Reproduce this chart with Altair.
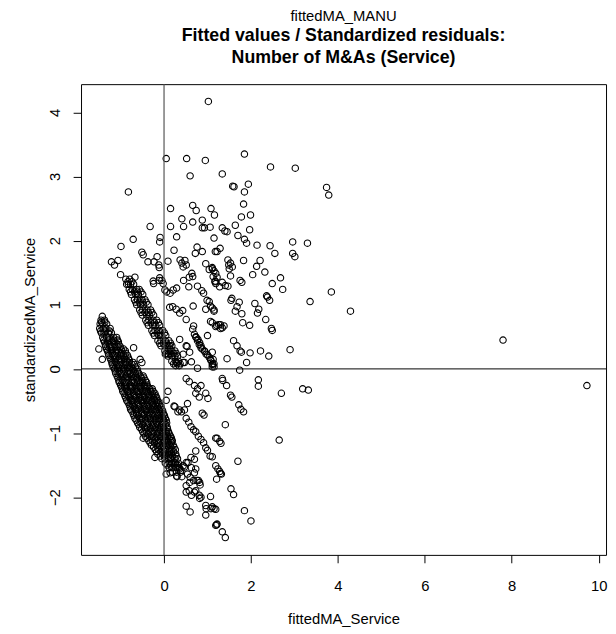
import altair as alt
import pandas as pd

# ---------------- data ----------------
# scattered points (fitted, standardized residual)
upper_pts = [
    (1.02, 4.17),
    (0.05, 3.28), (0.52, 3.28), (0.95, 3.25), (1.85, 3.35), (2.45, 3.15), (3.02, 3.13),
    (0.60, 3.01), (1.34, 3.04), (1.58, 2.85), (1.61, 2.84), (1.94, 2.88), (1.85, 2.76),
    (3.74, 2.83), (3.79, 2.71), (-0.82, 2.76),
    (0.15, 2.50), (0.66, 2.55), (0.74, 2.47), (1.08, 2.50), (1.16, 2.40), (1.83, 2.57),
    (1.78, 2.37), (1.99, 2.40), (0.41, 2.34), (0.66, 2.29), (0.88, 2.32),
    (-0.32, 2.22), (0.15, 2.22), (0.45, 2.22), (0.88, 2.20), (0.93, 2.20), (1.06, 2.21),
    (1.34, 2.20), (1.45, 2.14), (1.40, 2.15), (1.64, 2.24), (1.97, 2.17), (1.70, 2.08),
    (1.85, 2.02), (1.90, 1.96), (2.14, 1.93), (2.44, 1.92), (2.55, 1.80), (2.96, 1.98),
    (3.30, 1.96), (2.96, 1.80), (3.01, 1.75),
    (0.29, 2.06), (-0.09, 2.05), (-0.10, 1.98), (1.15, 2.04), (-0.71, 2.02), (-0.99, 1.91),
    (0.23, 1.85), (0.76, 1.90), (0.72, 1.80), (0.88, 1.83), (1.18, 1.83), (1.22, 1.83),
    (1.29, 1.88), (1.47, 1.70), (1.53, 1.65), (1.57, 1.59), (1.83, 1.69), (2.04, 1.47),
    (2.13, 1.60), (2.21, 1.69), (2.32, 1.51), (2.49, 1.33), (2.68, 1.42), (2.73, 1.24),
    (3.85, 1.20), (3.36, 1.05),
    (-0.51, 1.82), (-0.48, 1.78), (-0.37, 1.67), (-0.23, 1.67), (-0.16, 1.75),
    (-0.12, 1.62), (-0.11, 1.58), (-1.21, 1.67), (-1.14, 1.62), (-1.06, 1.69),
    (-1.00, 1.47), (-0.67, 1.43), (-0.82, 1.32), (-0.25, 1.37), (-0.24, 1.33),
    (-0.11, 1.38), (-0.10, 1.42), (0.09, 1.68), (0.37, 1.70), (0.41, 1.65), (0.48, 1.69),
    (0.51, 1.62), (0.44, 1.59), (0.96, 1.64), (1.04, 1.55), (1.11, 1.58), (1.15, 1.53),
    (1.13, 1.44), (1.49, 1.62), (1.50, 1.56), (1.53, 1.45),
    (0.45, 1.38), (0.58, 1.43), (0.64, 1.49), (0.66, 1.44), (0.57, 1.28), (0.77, 1.29),
    (0.87, 1.22), (0.91, 1.18), (1.18, 1.37), (1.19, 1.33), (1.34, 1.35), (1.41, 1.30),
    (1.75, 1.38), (1.79, 1.35), (1.73, 1.04), (1.68, 0.97), (1.56, 1.10), (1.54, 1.07),
    (2.36, 1.14), (2.38, 1.12), (2.43, 1.07), (2.09, 1.02), (2.18, 0.93), (2.15, 0.87),
    (2.34, 0.77), (2.47, 0.63), (1.81, 0.72), (1.97, 0.68),
    (0.67, 0.98), (0.96, 0.93), (0.99, 1.07), (1.04, 1.05), (1.07, 0.98), (1.15, 0.92),
    (0.13, 0.96), (0.20, 0.97), (0.28, 0.93), (0.36, 0.87), (0.43, 0.91), (0.51, 0.77),
    (1.07, 0.74), (1.21, 0.68), (1.30, 0.69), (1.34, 0.64), (1.38, 0.67), (0.68, 0.67),
    (1.00, 0.52),
    (1.11, 1.56), (1.19, 1.49), (1.22, 1.43), (1.17, 1.36), (1.28, 1.28), (1.47, 1.29),
    (1.64, 0.90), (1.79, 0.86), (2.49, 0.60), (1.11, 0.95), (1.15, 0.90),
    (1.11, 0.72), (1.19, 0.66), (1.26, 0.69), (1.30, 0.63), (4.29, 0.90), (2.90, 0.30),
    (1.60, 0.44), (1.68, 0.36), (1.75, 0.28), (1.78, 0.26), (1.98, 0.25), (2.22, 0.28),
    (2.41, 0.20), (1.45, 0.16), (1.90, 0.10), (1.74, -0.02),
    (-0.05, 1.38), (-0.02, 1.33), (0.02, 1.23), (0.06, 1.20), (0.14, 1.18), (0.21, 1.23),
    (0.29, 1.26),
    (7.80, 0.45), (9.73, -0.26),
]

# points of the stripe to the right of the second band
band2_pts = [
    (0.66, 0.62), (0.70, 0.54), (0.74, 0.49), (0.78, 0.46), (0.82, 0.41), (0.85, 0.36),
    (0.93, 0.28), (0.97, 0.23), (1.04, 0.18), (1.08, 0.13), (1.12, 0.08),
    (0.77, 0.44), (0.88, 0.31), (0.94, 0.27), (1.00, 0.22), (1.07, 0.15), (1.11, 0.07),
    (1.15, 0.03), (0.73, 0.50), (0.81, 0.38), (0.85, 0.33),
    (1.11, 0.26), (1.13, 0.15), (1.15, 0.08), (1.11, 0.03),
    (0.36, 0.46), (0.51, 0.36), (0.59, 0.26), (0.44, 0.23), (0.14, 0.31), (0.10, 0.23),
    (0.29, 0.10), (0.44, 0.10), (0.13, 0.36), (0.03, 0.23), (0.47, 0.10), (0.53, 0.35),
    (0.63, 0.11),
    (-1.50, 0.31), (-1.42, 0.15), (-0.55, 0.15), (-0.51, 0.10), (-0.70, 0.33),
]

# points below the zero line, away from the dense band
lower_pts = [
    (0.77, 0.01), (0.51, -0.15), (0.58, -0.20), (0.70, -0.26), (0.77, -0.31), (0.85, -0.26),
    (0.96, -0.38), (1.01, -0.46), (0.88, -0.69), (0.92, -0.72), (1.34, -0.15), (1.44, -0.26),
    (1.35, -0.18), (1.53, -0.41), (1.56, -0.44), (1.72, -0.56), (1.77, -0.63), (1.83, -0.67),
    (1.41, -0.87), (2.17, -0.17), (2.17, -0.27), (2.70, -0.38), (3.19, -0.31), (3.32, -0.33),
    (2.65, -1.11), (1.70, -1.44),
    (1.22, -1.08), (1.28, -1.13), (1.31, -1.16), (1.19, -1.08), (1.11, -1.37),
    (1.19, -1.51), (1.24, -1.56), (1.30, -1.63), (1.21, -1.72), (1.28, -1.60), (1.32, -1.64),
    (1.54, -1.87), (1.60, -1.96), (1.85, -2.21), (2.00, -2.37),
    (0.96, -2.13), (1.11, -2.15), (1.19, -2.19), (0.96, -2.28), (1.22, -2.42), (1.34, -2.54),
    (1.21, -2.43), (1.41, -2.63), (0.51, -2.14), (0.60, -2.23), (0.97, -2.18), (1.08, -2.18),
    (1.15, -2.18), (1.19, -2.44),
    (1.07, -1.99), (0.85, -2.00), (0.81, -1.97), (0.73, -1.90), (0.63, -1.97), (0.82, -2.02),
    (0.51, -0.77), (0.57, -0.83), (0.62, -0.90), (0.68, -0.95), (0.73, -0.98), (0.79, -1.05),
    (0.85, -1.10), (0.91, -1.15), (0.96, -1.23), (1.00, -1.27), (1.06, -1.36),
    (0.09, -0.35), (0.05, -0.49), (0.23, -0.58), (0.32, -0.67), (0.47, -0.64), (0.54, -0.54),
    (0.73, -0.38), (0.81, -0.44), (0.25, -0.59), (0.36, -0.64), (0.40, -0.67),
    (0.05, -1.64), (-0.21, -1.38), (-0.48, -1.08),
    (0.15, -1.38), (0.23, -1.46), (0.30, -1.54), (0.39, -1.58), (0.47, -1.53), (0.51, -1.46),
    (0.54, -1.64), (0.60, -1.69), (0.68, -1.74), (0.73, -1.56), (0.79, -1.74), (0.83, -1.81),
    (0.51, -1.82), (0.58, -1.90), (0.62, -1.38), (0.70, -1.41), (0.73, -1.28),
    (0.14, -1.62), (0.29, -1.67), (0.36, -1.56), (0.44, -1.51), (0.55, -1.46), (0.63, -1.54),
    (0.70, -1.62), (0.76, -1.74), (0.82, -1.77), (0.59, -1.77), (0.51, -1.92), (0.70, -1.92),
]

# dense lowest band: residual level -> fitted values seen at that level
band0_rows = [
    (0.82, [-1.42]),
    (0.76, [-1.45, -1.37]),
    (0.73, [-1.44, -1.36]),
    (0.70, [-1.47, -1.41, -1.32]),
    (0.63, [-1.48, -1.40, -1.34, -1.24]),
    (0.59, [-1.46, -1.36, -1.25]),
    (0.56, [-1.44, -1.38, -1.28, -1.21]),
    (0.49, [-1.41, -1.32, -1.26, -1.16, -1.09]),
    (0.45, [-1.39, -1.27, -1.16, -1.07]),
    (0.42, [-1.37, -1.30, -1.20, -1.13, -1.05]),
    (0.38, [-1.35, -1.24, -1.14, -1.04]),
    (0.35, [-1.34, -1.25, -1.18, -1.08, -1.01]),
    (0.31, [-1.32, -1.21, -1.10, -0.99, -0.93]),
    (0.28, [-1.30, -1.22, -1.12, -1.05, -0.97, -0.89]),
    (0.24, [-1.28, -1.19, -1.08, -0.98, -0.88]),
    (0.21, [-1.27, -1.17, -1.11, -1.00, -0.93, -0.84]),
    (0.17, [-1.24, -1.13, -1.02, -0.91, -0.82]),
    (0.14, [-1.22, -1.15, -1.05, -0.98, -0.87, -0.80]),
    (0.10, [-1.20, -1.11, -1.00, -0.89, -0.80, -0.71]),
    (0.07, [-1.19, -1.09, -1.02, -0.92, -0.85, -0.74, -0.68]),
    (0.03, [-1.17, -1.05, -0.95, -0.84, -0.76, -0.66]),
    (0.00, [-1.14, -1.07, -0.97, -0.90, -0.79, -0.72, -0.62]),
    (-0.04, [-1.12, -1.03, -0.92, -0.81, -0.70, -0.61]),
    (-0.07, [-1.11, -1.01, -0.94, -0.84, -0.77, -0.66, -0.58]),
    (-0.11, [-1.08, -0.97, -0.86, -0.75, -0.65, -0.55, -0.48]),
    (-0.14, [-1.06, -0.99, -0.88, -0.81, -0.70, -0.63, -0.52, -0.46]),
    (-0.18, [-1.04, -0.95, -0.83, -0.72, -0.61, -0.51, -0.43]),
    (-0.21, [-1.03, -0.92, -0.86, -0.75, -0.68, -0.57, -0.50, -0.40]),
    (-0.25, [-1.00, -0.89, -0.78, -0.67, -0.57, -0.46, -0.39]),
    (-0.28, [-0.98, -0.91, -0.80, -0.73, -0.62, -0.55, -0.44, -0.37]),
    (-0.31, [-0.96, -0.87, -0.75, -0.64, -0.53, -0.43, -0.33, -0.27]),
    (-0.35, [-0.95, -0.84, -0.78, -0.67, -0.60, -0.49, -0.42, -0.31, -0.25]),
    (-0.38, [-0.92, -0.81, -0.70, -0.59, -0.48, -0.38, -0.27, -0.21]),
    (-0.42, [-0.90, -0.82, -0.71, -0.64, -0.53, -0.46, -0.35, -0.28, -0.19]),
    (-0.45, [-0.88, -0.78, -0.66, -0.56, -0.45, -0.35, -0.24, -0.17]),
    (-0.49, [-0.86, -0.76, -0.69, -0.58, -0.51, -0.40, -0.33, -0.22, -0.15]),
    (-0.52, [-0.83, -0.72, -0.61, -0.50, -0.39, -0.29, -0.17, -0.12]),
    (-0.56, [-0.80, -0.73, -0.62, -0.55, -0.44, -0.37, -0.26, -0.19, -0.10]),
    (-0.59, [-0.78, -0.69, -0.57, -0.46, -0.35, -0.25, -0.15, -0.07]),
    (-0.63, [-0.77, -0.66, -0.59, -0.48, -0.41, -0.30, -0.23, -0.12, -0.05]),
    (-0.66, [-0.74, -0.63, -0.52, -0.41, -0.30, -0.20, -0.10, -0.03]),
    (-0.70, [-0.71, -0.63, -0.52, -0.45, -0.34, -0.27, -0.16, -0.09, -0.01]),
    (-0.73, [-0.69, -0.59, -0.47, -0.36, -0.25, -0.15, -0.06, 0.01]),
    (-0.77, [-0.67, -0.56, -0.49, -0.38, -0.31, -0.20, -0.13, -0.03, 0.03]),
    (-0.80, [-0.64, -0.53, -0.42, -0.31, -0.21, -0.11, -0.01, 0.05]),
    (-0.84, [-0.61, -0.53, -0.42, -0.35, -0.24, -0.17, -0.06, 0.00, 0.06]),
    (-0.87, [-0.58, -0.49, -0.37, -0.26, -0.15, -0.05, 0.04]),
    (-0.91, [-0.56, -0.45, -0.38, -0.27, -0.20, -0.09, -0.02, 0.07]),
    (-0.94, [-0.52, -0.42, -0.31, -0.21, -0.11, -0.01, 0.08]),
    (-0.98, [-0.49, -0.41, -0.30, -0.23, -0.12, -0.05, 0.04, 0.10]),
    (-1.01, [-0.46, -0.36, -0.25, -0.15, -0.04, 0.06, 0.12]),
    (-1.05, [-0.43, -0.32, -0.25, -0.14, -0.07, 0.03, 0.08, 0.15]),
    (-1.08, [-0.39, -0.28, -0.18, -0.08, 0.03, 0.12, 0.17]),
    (-1.12, [-0.35, -0.27, -0.16, -0.09, 0.01, 0.07, 0.16, 0.19]),
    (-1.15, [-0.32, -0.22, -0.12, -0.02, 0.08, 0.17]),
    (-1.19, [-0.29, -0.18, -0.11, -0.01, 0.05, 0.14, 0.21]),
    (-1.22, [-0.24, -0.14, -0.04, 0.06, 0.16, 0.23]),
    (-1.26, [-0.20, -0.13, -0.02, 0.04, 0.13, 0.18, 0.26]),
    (-1.29, [-0.17, -0.07, 0.02, 0.12, 0.22]),
    (-1.33, [-0.14, -0.04, 0.03, 0.12, 0.17, 0.27]),
    (-1.36, [-0.09, 0.01, 0.10, 0.20, 0.28]),
    (-1.40, [-0.05, 0.02, 0.11, 0.16, 0.25, 0.31]),
    (-1.47, [0.03, 0.12, 0.17, 0.26, 0.33]),
    (-1.50, [0.07, 0.15, 0.23, 0.31]),
    (-1.54, [0.12, 0.18, 0.27, 0.35]),
    (-1.61, [0.20, 0.29, 0.38]),
    (-1.68, [0.30, 0.41]),
]

# dense second band
band1_rows = [
    (1.40, [-0.88, -0.79]),
    (1.36, [-0.83, -0.74]),
    (1.32, [-0.86, -0.77, -0.70]),
    (1.24, [-0.80, -0.73, -0.63, -0.57]),
    (1.20, [-0.77, -0.68, -0.61, -0.53]),
    (1.16, [-0.75, -0.65, -0.59, -0.49]),
    (1.08, [-0.68, -0.61, -0.51, -0.44]),
    (1.04, [-0.65, -0.57, -0.49, -0.41]),
    (1.00, [-0.63, -0.54, -0.47, -0.37]),
    (0.92, [-0.56, -0.49, -0.39, -0.31]),
    (0.88, [-0.53, -0.44, -0.36, -0.28]),
    (0.84, [-0.50, -0.40, -0.33, -0.24]),
    (0.76, [-0.42, -0.35, -0.25, -0.17]),
    (0.72, [-0.39, -0.30, -0.22, -0.13]),
    (0.68, [-0.36, -0.26, -0.19, -0.10]),
    (0.60, [-0.28, -0.21, -0.11, -0.03]),
    (0.56, [-0.25, -0.16, -0.08, 0.01]),
    (0.52, [-0.22, -0.12, -0.05, 0.04]),
    (0.44, [-0.14, -0.07, 0.03, 0.11]),
    (0.40, [-0.10, -0.02, 0.06, 0.15]),
    (0.36, [-0.07, 0.02, 0.09, 0.18]),
    (0.28, [0.02, 0.09, 0.18, 0.25]),
    (0.24, [0.05, 0.14, 0.22, 0.28]),
    (0.20, [0.09, 0.19, 0.25, 0.31]),
    (0.12, [0.18, 0.26, 0.33]),
    (0.08, [0.22, 0.30, 0.37]),
    (0.05, [0.27, 0.35]),
]

x_ticks = [0, 2, 4, 6, 8, 10]
y_ticks = [-2, -1, 0, 1, 2, 3, 4]

# ---------------- assemble ----------------
rows = list(upper_pts) + list(band2_pts) + list(lower_pts)
for yv, xs in band0_rows + band1_rows:
    for xv in xs:
        rows.append((xv, yv))
df = pd.DataFrame(rows, columns=["fitted", "resid"])
ref = pd.DataFrame({"v": [0]})

FONT = "Liberation Sans"
xscale = alt.Scale(domain=[-1.91, 10.17], nice=False, zero=False)
yscale = alt.Scale(domain=[-2.90, 4.44], nice=False, zero=False)

points = alt.Chart(df).mark_point(
    shape="circle", filled=False, size=42, strokeWidth=1.1, color="black", opacity=1
).encode(
    x=alt.X("fitted:Q", scale=xscale,
            axis=alt.Axis(values=x_ticks, format="d", title="fittedMA_Service",
                          labelPadding=16, titleY=65, titleBaseline="middle",
                          titleAlign="center")),
    y=alt.Y("resid:Q", scale=yscale,
            axis=alt.Axis(values=y_ticks, format="d", title="standardizedMA_Service",
                          labelAngle=270, labelAlign="center", labelBaseline="middle",
                          labelPadding=19, titleAngle=270, titleX=-52, titleY=238.5,
                          titleAlign="center", titleBaseline="middle")),
)

vline = alt.Chart(ref).mark_rule(color="#555555", strokeWidth=1.2).encode(
    x=alt.X("v:Q", scale=xscale))
hline = alt.Chart(ref).mark_rule(color="black", strokeWidth=1).encode(
    y=alt.Y("v:Q", scale=yscale))

chart = alt.layer(points, vline, hline).properties(
    width=532, height=477,
    autosize=alt.AutoSizeParams(type="none"),
    padding={"left": 74, "top": 73, "right": 2, "bottom": 76},
    title=alt.TitleParams(
        text="fittedMA_MANU",
        subtitle=["Fitted values / Standardized residuals:", "Number of M&As (Service)"],
        anchor="middle", frame="group",
        font=FONT, fontSize=15, fontWeight="normal", color="black",
        subtitleFont=FONT, subtitleFontSize=18, subtitleFontWeight="bold",
        subtitleColor="black", subtitlePadding=3, subtitleLineHeight=22,
        offset=17,
    ),
).configure_view(
    stroke="black", strokeWidth=1
).configure_axis(
    grid=False, domain=False, ticks=True, tickColor="black", tickSize=8, tickWidth=1,
    labelFont=FONT, labelFontSize=15, labelColor="black",
    titleFont=FONT, titleFontSize=15, titleFontWeight="normal", titleColor="black",
)

chart.save("out.html", embed_options={"renderer": "svg", "actions": False})
